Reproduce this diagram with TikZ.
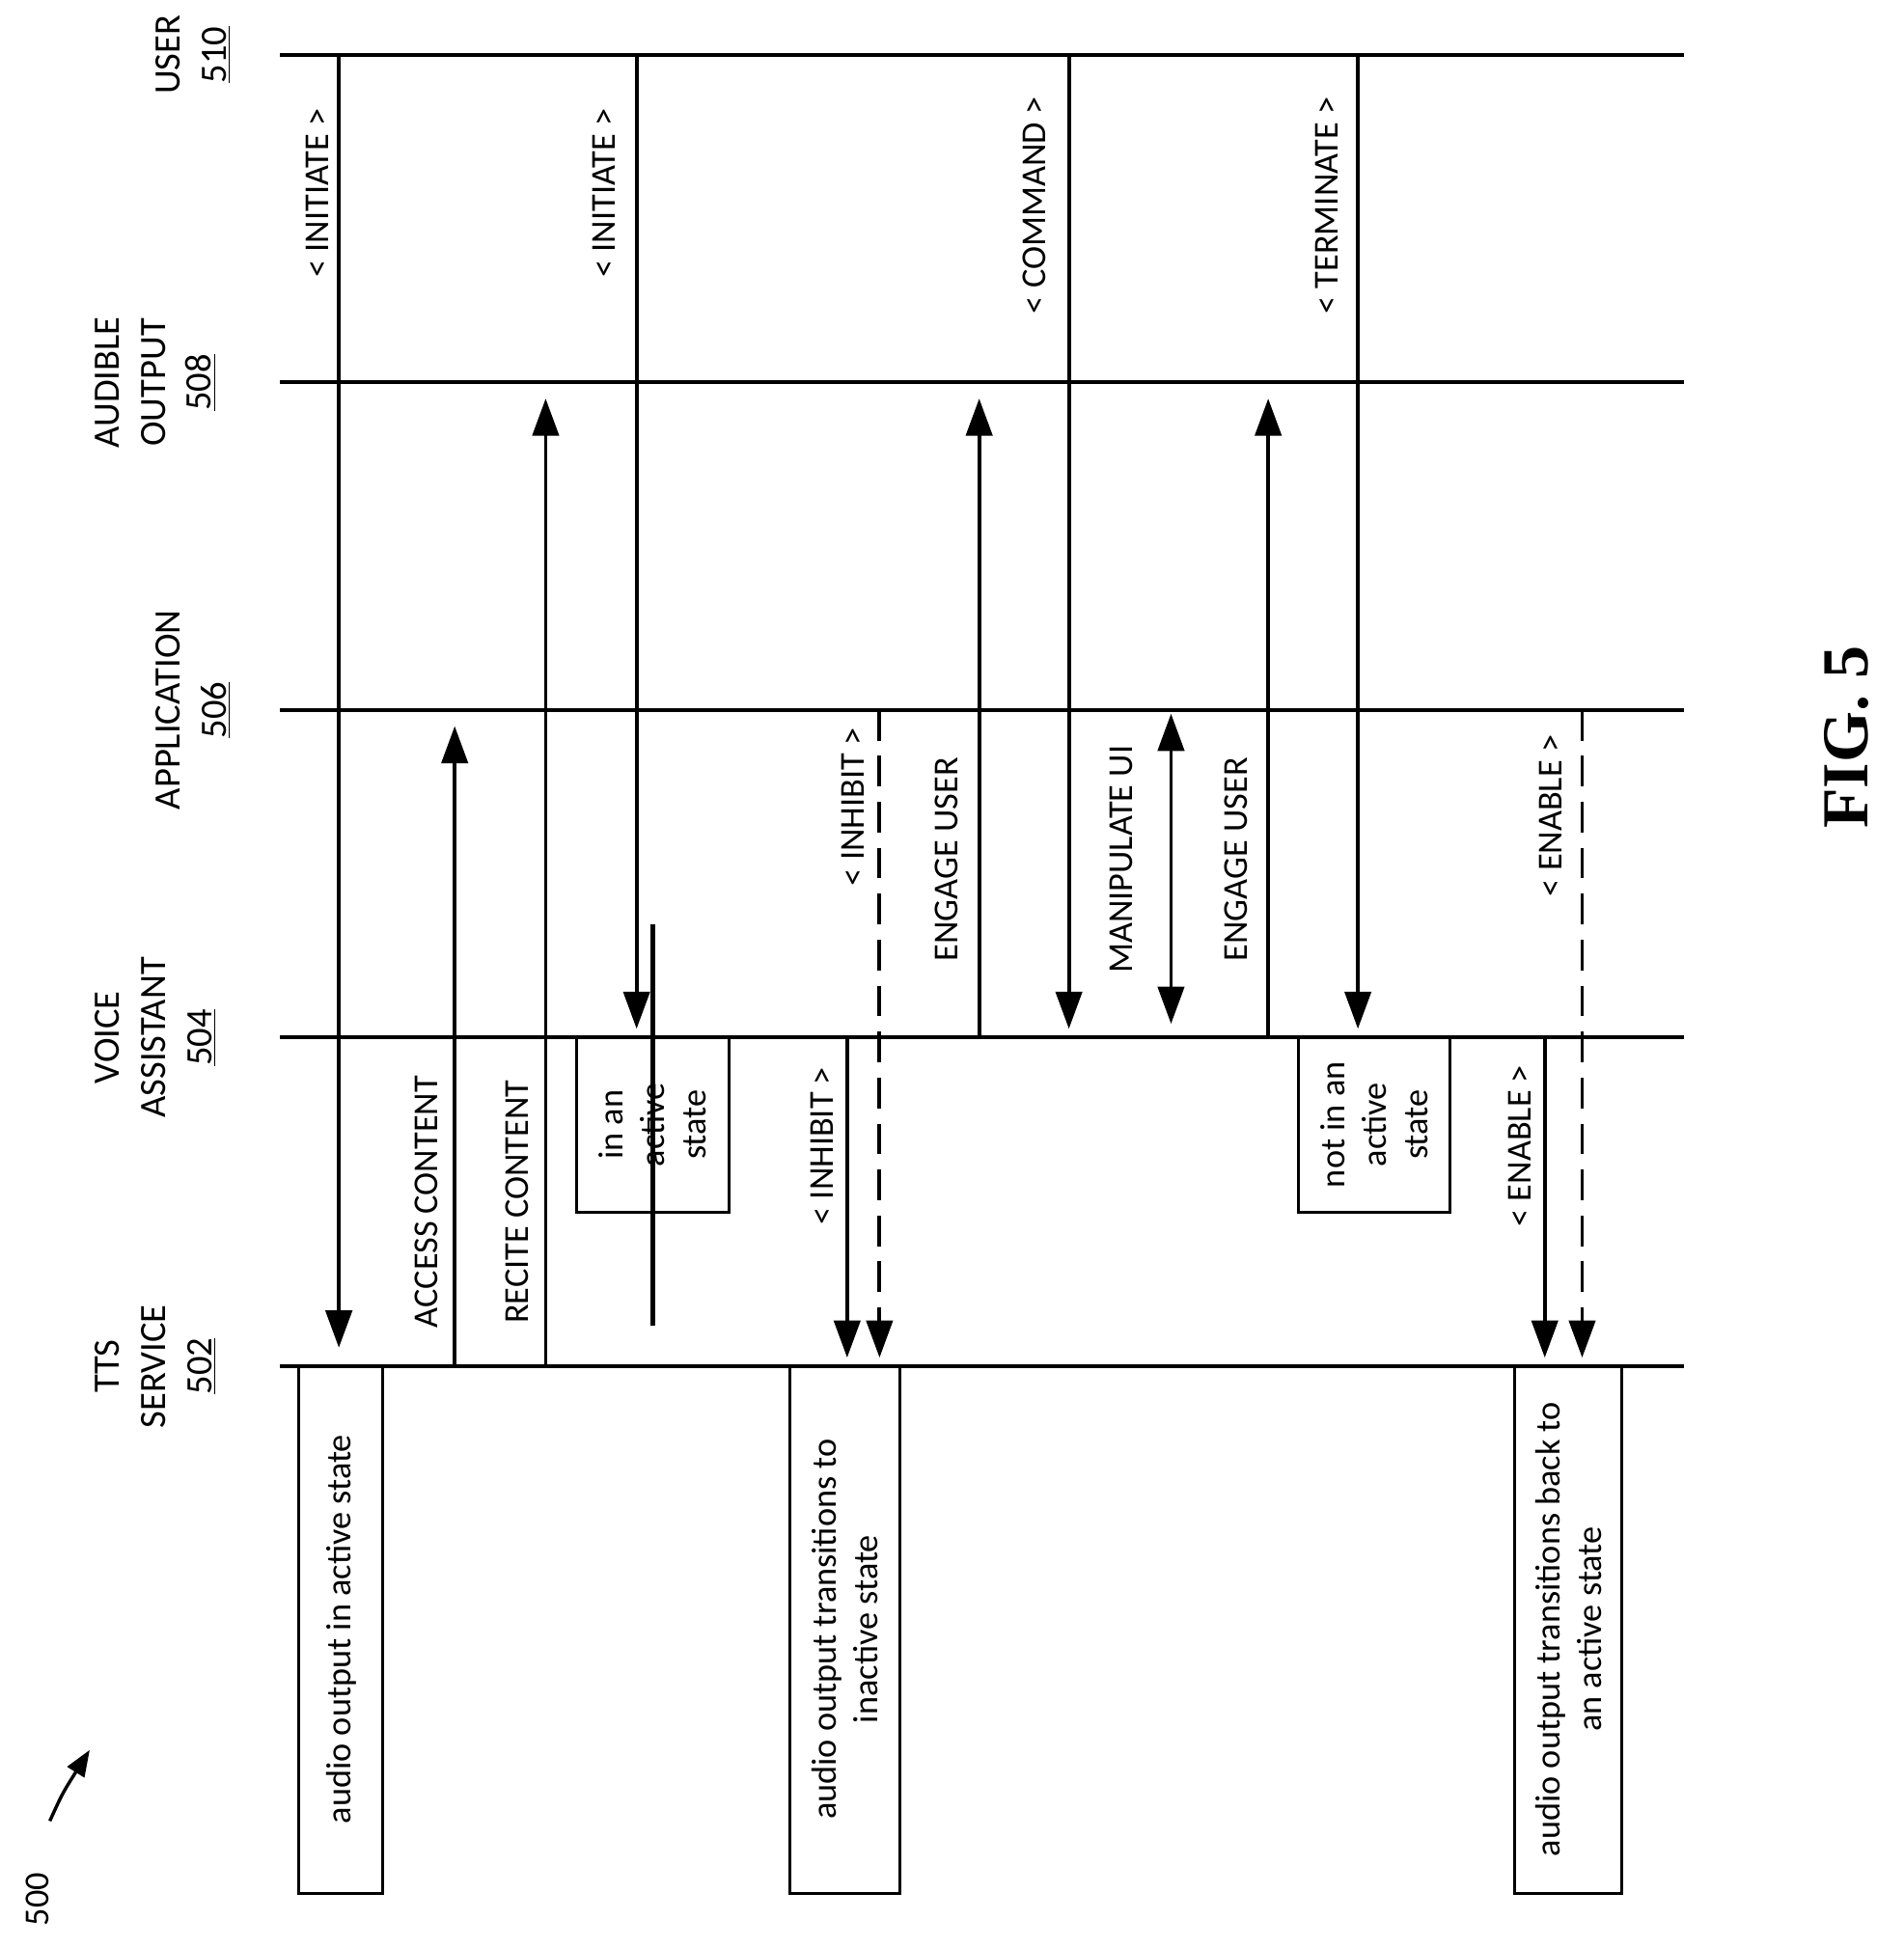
\documentclass[tikz,border=0pt]{standalone}
\usepackage{fontspec}
\setmainfont{Carlito}
\newfontfamily\figfont{Liberation Serif}
\usetikzlibrary{arrows.meta}
\begin{document}
\begin{tikzpicture}[x=0.02cm,y=-0.02cm,
  ln/.style={line width=1.7pt},
  arr/.style={line width=1.7pt,-{Triangle[length=17pt,width=12pt]}},
  darr/.style={line width=1.7pt,{Triangle[length=17pt,width=12pt]}-{Triangle[length=17pt,width=12pt]}},
  dsh/.style={arr,dash pattern=on 14pt off 7pt},
  lab/.style={rotate=90,font=\fontsize{16}{19}\selectfont,inner sep=0pt},
  hdr/.style={rotate=90,font=\fontsize{17}{21}\selectfont,align=center,inner sep=0pt},
  bx/.style={draw,line width=1.3pt,rotate=90,font=\fontsize{16}{19}\selectfont,align=center,inner sep=0pt}]
\useasboundingbox (0,0) rectangle (1528,1564);
% lifelines
\foreach \n/\y in {l510/44,l508/307,l506/570,l504/833,l502/1097}{
  \draw[ln] (225,\y) coordinate(\n a) -- (1352,\y) coordinate(\n b);}
% headers
\node[hdr] (h510) at (155,44) {USER\\\underline{510}};
\node[hdr] (h508) at (125,307) {AUDIBLE\\OUTPUT\\\underline{508}};
\node[hdr] (h506) at (155,570) {APPLICATION\\\underline{506}};
\node[hdr] (h504) at (125,833) {VOICE\\ASSISTANT\\\underline{504}};
\node[hdr] (h502) at (125,1097) {TTS\\SERVICE\\\underline{502}};
% coordinates
\coordinate (a1s) at (272,44); \coordinate (a1e) at (272,1082);
\coordinate (a2s) at (365,1097); \coordinate (a2e) at (365,583);
\coordinate (a3s) at (438,1097); \coordinate (a3e) at (438,320);
\coordinate (a4s) at (511,44); \coordinate (a4e) at (511,826);
\coordinate (a5s) at (680,833); \coordinate (a5e) at (680,1090);
\coordinate (a6s) at (706,570); \coordinate (a6e) at (706,1090);
\coordinate (a7s) at (786,833); \coordinate (a7e) at (786,320);
\coordinate (a8s) at (858,44); \coordinate (a8e) at (858,826);
\coordinate (a9s) at (940,573); \coordinate (a9e) at (940,822);
\coordinate (a10s) at (1018,833); \coordinate (a10e) at (1018,320);
\coordinate (a11s) at (1090,44); \coordinate (a11e) at (1090,826);
\coordinate (a12s) at (1240,833); \coordinate (a12e) at (1240,1090);
\coordinate (a13s) at (1270,570); \coordinate (a13e) at (1270,1090);
\draw[arr] (a1s)--(a1e); \draw[arr] (a2s)--(a2e); \draw[arr] (a3s)--(a3e);
\draw[arr] (a4s)--(a4e); \draw[arr] (a5s)--(a5e); \draw[dsh] (a6s)--(a6e);
\draw[arr] (a7s)--(a7e); \draw[arr] (a8s)--(a8e); \draw[darr] (a9s)--(a9e);
\draw[arr] (a10s)--(a10e); \draw[arr] (a11s)--(a11e); \draw[arr] (a12s)--(a12e);
\draw[dsh] (a13s)--(a13e);
% labels
\node[lab] (t1) at (255,155) {< INITIATE >};
\node[lab] (t2) at (342,965) {ACCESS CONTENT};
\node[lab] (t3) at (415,965) {RECITE CONTENT};
\node[lab] (t4) at (485,155) {< INITIATE >};
\node[lab] (t5) at (660,920) {< INHIBIT >};
\node[lab] (t6) at (685,648) {< INHIBIT >};
\node[lab] (t7) at (760,690) {ENGAGE USER};
\node[lab] (t8) at (830,165) {< COMMAND >};
\node[lab] (t9) at (900,690) {MANIPULATE UI};
\node[lab] (t10) at (992,690) {ENGAGE USER};
\node[lab] (t11) at (1065,165) {< TERMINATE >};
\node[lab] (t12) at (1220,920) {< ENABLE >};
\node[lab] (t13) at (1245,655) {< ENABLE >};
% state boxes
\node[bx,minimum width=140\pgflinewidth,text width=3.8cm] (s1) at (524,903) {};
\draw[line width=1.3pt] (463,833) rectangle (585,973);
\node[lab,align=center] (s1t) at (524,903) {in an\\active\\state};
\draw[line width=1.3pt] (1042,833) rectangle (1164,973);
\node[lab,align=center] (s2t) at (1103,903) {not in an\\active\\state};
\draw[line width=1.3pt] (240,1097) rectangle (307,1520);
\node[lab,align=center] (b1) at (274,1308) {audio output in active state};
\draw[line width=1.3pt] (634,1097) rectangle (722,1520);
\node[lab,align=center] (b2) at (678,1308) {audio output transitions to\\inactive state};
\draw[line width=1.3pt] (1216,1097) rectangle (1302,1520);
\node[lab,align=center] (b3) at (1259,1308) {audio output transitions back to\\an active state};
% fig
\node[rotate=90,font=\figfont\bfseries\fontsize{30}{36}\selectfont] (fig) at (1482,592) {FIG. 5};
\node[rotate=90,font=\fontsize{16}{19}\selectfont] (n500) at (30,1525) {500};
\coordinate (c1) at (40,1462); \coordinate (c2) at (72,1405);
\draw[line width=1.5pt,-{Triangle[length=12pt,width=9pt]}] (c1) .. controls (50,1440) .. (c2);
\end{tikzpicture}
\end{document}
